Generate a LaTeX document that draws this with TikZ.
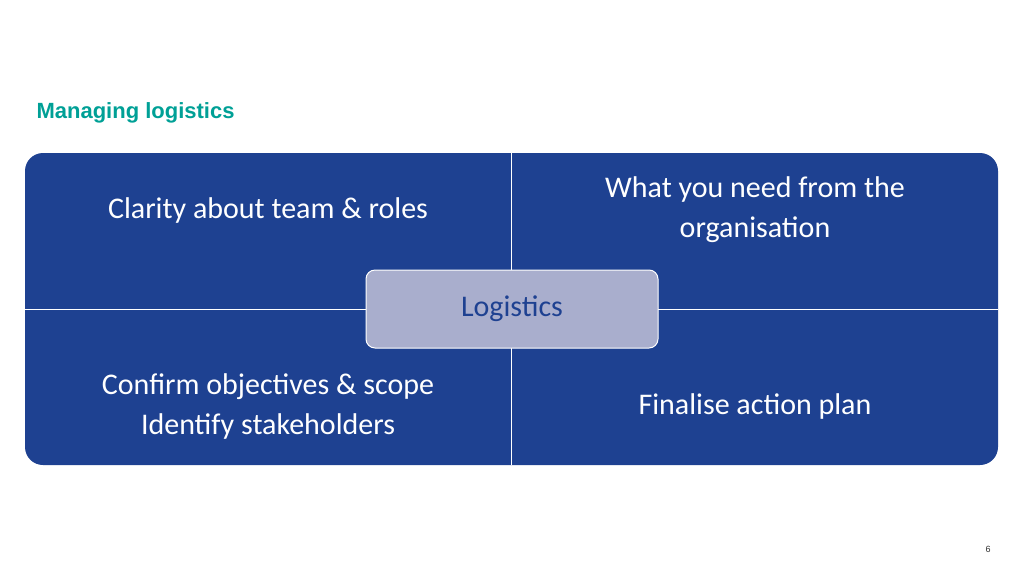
\documentclass[tikz,border=0pt]{standalone}
\usepackage{fontspec}
\setmainfont{Carlito}
\newfontfamily\titlefont{Liberation Sans}
\definecolor{quadblue}{HTML}{1E4191}
\definecolor{hubfill}{HTML}{A9AECD}
\definecolor{titleteal}{HTML}{00A096}
\tikzset{
    quadtext/.style={text=white, font=\fontsize{30}{40}\selectfont, align=center},
    hub/.style={draw=white, line width=1pt, fill=hubfill, rounded corners=9pt,
        minimum width=292pt, minimum height=78pt, text=quadblue,
        font=\fontsize{30}{36}\selectfont},
}
\begin{document}
\begin{tikzpicture}[x=1pt,y=-1pt]
    \useasboundingbox (0,0) rectangle (1024,576);
    \node[anchor=west, text=titleteal, font=\titlefont\bfseries\fontsize{22}{26}\selectfont] (title) at (33,113) {Managing logistics};
    % grid
    \fill[quadblue, rounded corners=18pt] (25,153) rectangle (998,465);
    \coordinate (top) at (511,153);
    \coordinate (bottom) at (511,465);
    \coordinate (left) at (25,309);
    \coordinate (right) at (998,309);
    \draw[white, line width=1pt] (top) -- (bottom);
    \draw[white, line width=1pt] (left) -- (right);
    \node[quadtext] (teamroles) at (268,210) {Clarity about team \& roles};
    \node[quadtext] (orgneeds) at (755,210) {What you need from the\\organisation};
    \node[quadtext] (objectives) at (268,406) {Confirm objectives \& scope\\Identify stakeholders};
    \node[quadtext] (actionplan) at (755,406) {Finalise action plan};
    \node[hub] (logistics) at (512,309) {Logistics};
    \node[font=\titlefont\fontsize{9}{11}\selectfont, text=black!80] (pagenum) at (988,549) {6};
\end{tikzpicture}
\end{document}
